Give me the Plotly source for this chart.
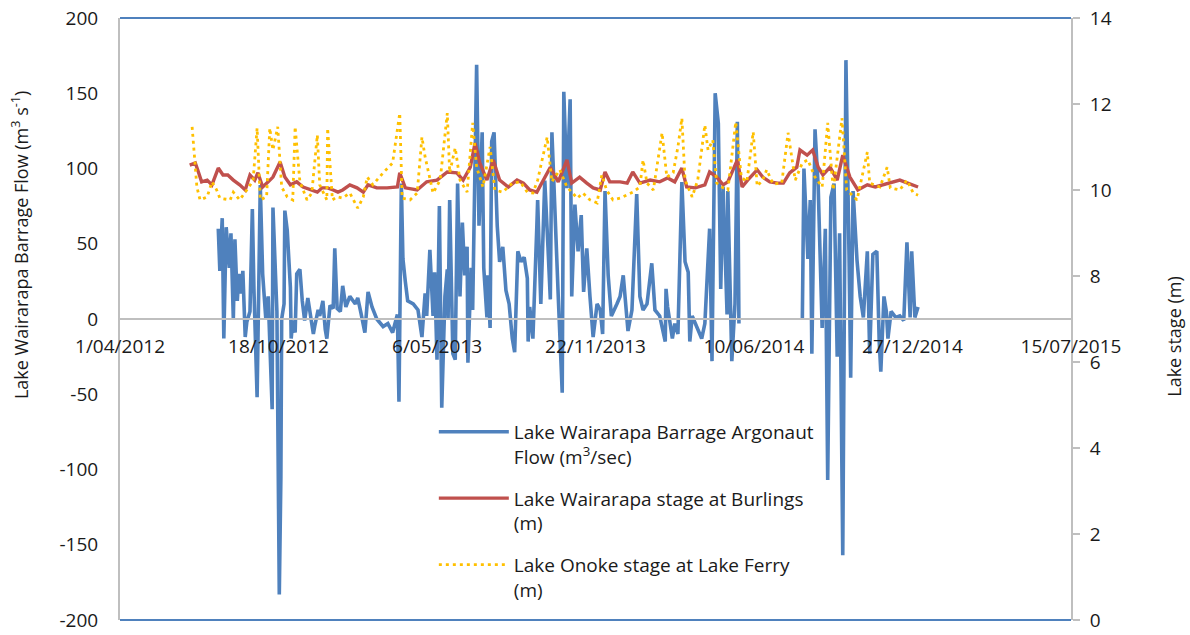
import pandas as pd
import plotly.graph_objects as go

# ---------------- data (days since 1 April 2012) ----------------
flow_day = [124, 126, 129, 131, 134, 138, 140, 143, 145, 148, 150, 153, 155, 158, 160, 164, 167, 169, 173, 175,
            177, 180, 184, 187, 192, 193, 196, 198, 201, 203, 204, 207, 208, 211, 215, 216, 218, 221, 223, 227,
            230, 233, 237, 240, 244, 246, 250, 252, 256, 259, 261, 265, 269, 271, 274, 278, 281, 285, 290, 297,
            300, 304, 309, 313, 318, 324, 332, 338, 344, 350, 352, 355, 357, 360, 363, 370, 376, 381, 385, 387,
            391, 395, 397, 400, 403, 406, 410, 413, 414, 416, 419, 420, 423, 426, 429, 432, 435, 438, 439, 443,
            445, 450, 453, 457, 459, 463, 464, 467, 469, 472, 476, 479, 483, 487, 491, 495, 498, 502, 506, 510,
            514, 515, 517, 521, 526, 527, 531, 536, 540, 543, 545, 549, 553, 558, 560, 564, 568, 570, 574, 578,
            582, 585, 589, 593, 597, 602, 606, 609, 612, 616, 620, 627, 631, 635, 638, 641, 646, 652, 656, 660,
            665, 671, 675, 681, 688, 689, 691, 697, 700, 704, 709, 713, 717, 719, 722, 726, 729, 734, 738, 742,
            744, 747, 751, 755, 758, 761, 766, 767, 772, 776, 779, 781, 820,
            861, 863, 868, 871, 873, 877, 881, 886, 890, 893, 897, 901, 905, 908, 912, 916, 920, 922, 925, 930,
            934, 938, 943, 946, 950, 955, 958, 960, 964, 967, 969, 973, 979, 984, 989, 993, 997, 999, 1003, 1007]
flow_value = [60, 32, 67, -13, 61, 34, 57, 0, 53, 12, 30, 17, 32, -12, -2, 5, 73, 20, -52, 10,
              89, 30, 0, 15, -60, 74, 30, 5, -183, -105, 0, 10, 72, 59, 21, -13, -1, -9, 30, 33,
              12, -1, 14, 5, -10, -4, 6, 2, 12, -7, -13, 9, 7, 47, 7, 5, 22, 8, 15, 10,
              14, 4, -9, 18, 8, 0, -5, -3, -9, 3, -55, 90, 40, 25, 12, 10, 6, -12, 17, 2,
              46, 2, 31, -27, 75, -59, 15, 33, 0, 79, 15, -23, -27, 90, 15, 64, 29, 48, -29, 34,
              6, 169, 62, 124, 34, 1, 29, -6, 118, 124, 62, 38, 48, 19, 10, -13, -22, 45, 38, 41,
              27, -15, 8, -13, 62, 79, 10, 92, 48, 13, 124, 76, 15, -49, 151, 87, 146, 15, 76, 45,
              69, 18, 47, 15, -12, 10, 6, -10, 85, 29, 2, 10, 15, 29, 10, -8, 6, 83, 15, 6,
              10, 37, 6, 2, -15, 20, 8, -13, -3, -10, 91, 38, 31, -15, 2, -3, -6, -13, -3, 47,
              60, -28, 150, 130, 20, 88, 3, 85, -28, 10, 131, -3, None,
              0, 100, 40, 79, -23, 126, 88, -6, 60, -107, 81, 90, -25, 57, -157, 172, 39, -39, 85, 39,
              15, 1, 45, -23, 43, 45, -15, -35, 15, 5, -13, 5, 1, 2, -1, 51, 1, 45, 1, 8]

burlings_day = [88, 95, 98, 103, 110, 116, 124, 130, 136, 143, 151, 158, 164, 170, 174, 180, 187, 193, 202, 208,
                215, 223, 231, 240, 249, 255, 262, 269, 275, 281, 290, 299, 307, 313, 324, 337, 350, 353, 360, 375,
                387, 400, 413, 425, 433, 442, 448, 454, 463, 471, 479, 490, 501, 509, 517, 526, 534, 543, 553, 564,
                570, 580, 589, 597, 606, 612, 618, 631, 640, 647, 656, 669, 681, 691, 700, 709, 715, 726, 738, 744,
                753, 761, 767, 779, 785, 792, 804, 811, 820, 830, 837, 845, 854, 858, 867, 874, 881, 887, 896, 905,
                912, 921, 931, 943, 953, 963, 974, 984, 994, 1007]
burlings_stage = [10.58, 10.63, 10.47, 10.19, 10.23, 10.12, 10.51, 10.35, 10.35, 10.23, 10.12, 10.00, 10.35, 10.23,
                  10.40, 10.07, 10.19, 10.30, 10.65, 10.30, 10.12, 10.19, 10.07, 10.00, 9.95, 10.05, 10.05, 10.00,
                  9.95, 10.00, 10.12, 10.05, 9.95, 10.12, 10.05, 10.05, 10.07, 10.40, 10.05, 10.00, 10.19, 10.23,
                  10.42, 10.40, 10.23, 10.53, 11.09, 10.63, 10.23, 10.70, 10.23, 10.07, 10.23, 10.16, 10.00, 9.95,
                  10.23, 10.53, 10.19, 10.70, 10.16, 10.30, 10.16, 10.05, 10.00, 10.42, 10.19, 10.19, 10.16, 10.42,
                  10.16, 10.23, 10.19, 10.28, 10.19, 10.51, 10.07, 10.05, 10.12, 10.42, 10.30, 10.12, 10.19, 10.70,
                  10.07, 10.23, 10.47, 10.30, 10.19, 10.16, 10.16, 10.40, 10.53, 10.93, 10.81, 10.93, 10.53, 10.35,
                  10.53, 10.23, 10.81, 10.30, 10.00, 10.12, 10.07, 10.12, 10.19, 10.23, 10.16, 10.07]

onoke_day = [91, 97, 101, 110, 116, 122, 126, 139, 143, 151, 162, 168, 173, 177, 185, 189, 193, 199, 204, 211,
             218, 221, 227, 236, 242, 249, 252, 261, 262, 268, 274, 281, 290, 300, 307, 312, 319, 332, 344, 353,
             356, 366, 375, 381, 385, 395, 404, 413, 416, 423, 429, 438, 445, 450, 458, 467, 473, 483, 495, 505,
             514, 521, 527, 539, 545, 555, 564, 570, 577, 584, 593, 602, 608, 614, 622, 631, 640, 647, 656, 660,
             665, 673, 684, 690, 698, 704, 709, 713, 722, 729, 738, 742, 748, 753, 761, 767, 777, 784, 791, 799,
             804, 811, 816, 824, 835, 843, 852, 861, 868, 877, 886, 893, 900, 911, 917, 930, 943, 946, 959, 968,
             972, 984, 993, 1001, 1007]
onoke_stage = [11.47, 10.07, 9.77, 9.84, 10.19, 10.00, 9.81, 9.77, 9.95, 9.77, 10.05, 10.23, 11.44, 9.77, 9.84,
               11.44, 10.93, 11.47, 10.07, 9.84, 9.77, 11.47, 10.19, 9.77, 9.93, 11.28, 10.12, 9.77, 11.44, 9.77,
               9.84, 9.81, 9.93, 9.58, 9.84, 10.30, 10.12, 10.40, 10.63, 11.79, 9.81, 9.77, 9.93, 11.23, 10.77,
               9.93, 10.23, 11.79, 10.40, 10.98, 10.23, 9.95, 11.56, 10.53, 10.07, 11.00, 10.00, 9.95, 10.16, 10.19,
               9.95, 9.93, 10.23, 11.23, 10.19, 10.47, 10.07, 9.95, 9.81, 9.93, 9.77, 9.70, 10.35, 10.00, 9.77,
               9.81, 9.88, 9.95, 10.07, 10.70, 10.16, 10.00, 11.33, 10.30, 10.40, 11.00, 11.67, 10.23, 9.84, 10.23,
               11.51, 10.93, 11.16, 10.16, 10.05, 10.00, 11.58, 10.30, 10.19, 11.35, 10.09, 10.23, 10.47, 10.14,
               10.16, 11.33, 10.23, 10.63, 10.70, 10.30, 10.07, 11.56, 10.00, 11.67, 10.00, 9.77, 10.88, 10.16,
               10.07, 10.53, 10.05, 10.00, 10.23, 9.93, 9.88]

tick_dates = ["2012-04-01", "2012-10-18", "2013-05-06", "2013-11-22", "2014-06-10", "2014-12-27", "2015-07-15"]
tick_labels = ["1/04/2012", "18/10/2012", "6/05/2013", "22/11/2013", "10/06/2014", "27/12/2014", "15/07/2015"]
flow_ticks = [-200, -150, -100, -50, 0, 50, 100, 150, 200]
flow_tick_labels = ["-200", "-150", "-100", "-50", "0", "50", "100", "150", "200"]

base = pd.Timestamp("2012-04-01")
to_dates = lambda days: [base + pd.Timedelta(days=d) for d in days]

FONT = "Open Sans"
TXT = "#1a1a1a"
GREY = "#BFBFBF"
BLUE = "#4F81BD"

fig = go.Figure()
fig.add_trace(go.Scatter(x=to_dates(flow_day), y=flow_value, mode="lines",
                         name="Lake Wairarapa Barrage Argonaut<br>Flow (m<sup>3</sup>/sec)",
                         line=dict(color=BLUE, width=3.6), legendgroup="a", connectgaps=False))
fig.add_trace(go.Scatter(x=to_dates(burlings_day), y=burlings_stage, mode="lines", yaxis="y2",
                         name="Lake Wairarapa stage at Burlings<br>(m)",
                         line=dict(color="#C0504D", width=3.4), legendgroup="b"))
fig.add_trace(go.Scatter(x=to_dates(onoke_day), y=onoke_stage, mode="lines", yaxis="y2",
                         name="Lake Onoke stage at Lake Ferry<br>(m)",
                         line=dict(color="#FFC000", width=2.8, dash="3px,4px"), legendgroup="c"))

fig.update_layout(
    width=1190, height=635,
    margin=dict(l=120, r=119, t=18, b=15, autoexpand=False),
    paper_bgcolor="white", plot_bgcolor="white",
    font=dict(family=FONT, size=19, color=TXT),
    showlegend=True,
    legend=dict(x=0.330, y=0.344, xanchor="left", yanchor="top", valign="top",
                bgcolor="rgba(0,0,0,0)", font=dict(size=19, color=TXT),
                tracegroupgap=14, traceorder="grouped", itemwidth=70),
    xaxis=dict(type="date", range=["2012-04-01", "2015-07-15"],
               tickvals=tick_dates, ticktext=tick_labels, automargin=False,
               anchor="free", position=0.5, showline=True, linecolor=GREY, linewidth=2,
               showgrid=False, zeroline=False, ticks="", ticklabelstandoff=10,
               tickfont=dict(size=19, color=TXT)),
    yaxis=dict(range=[-200, 200], tickvals=flow_ticks, ticktext=flow_tick_labels, automargin=False,
               showline=True, linecolor=GREY, linewidth=2,
               showgrid=False, zeroline=False, ticks="", ticklabelstandoff=16,
               tickfont=dict(size=19, color=TXT)),
    yaxis2=dict(range=[0, 14], dtick=2, overlaying="y", side="right", showline=True, automargin=False,
                linecolor=GREY, linewidth=2, showgrid=False, zeroline=False,
                ticks="outside", ticklen=7, tickcolor=GREY, tickwidth=1.5, ticklabelstandoff=6,
                tickfont=dict(size=19, color=TXT)),
    shapes=[
        dict(type="line", xref="paper", yref="paper", x0=0, x1=1, y0=1, y1=1,
             line=dict(color=BLUE, width=2)),
        dict(type="line", xref="paper", yref="paper", x0=0, x1=1, y0=0, y1=0,
             line=dict(color=BLUE, width=2)),
    ],
    annotations=[
        dict(text="Lake Wairarapa Barrage Flow (m<sup>3</sup> s<sup>-1</sup>)", textangle=-90,
             xref="paper", yref="paper", x=-0.105, y=0.623, xanchor="center", yanchor="middle",
             showarrow=False, font=dict(size=18, color=TXT)),
        dict(text="Lake stage (m)", textangle=-90,
             xref="paper", yref="paper", x=1.108, y=0.47, xanchor="center", yanchor="middle",
             showarrow=False, font=dict(size=18, color=TXT)),
    ],
)

fig.write_html("out.html")
